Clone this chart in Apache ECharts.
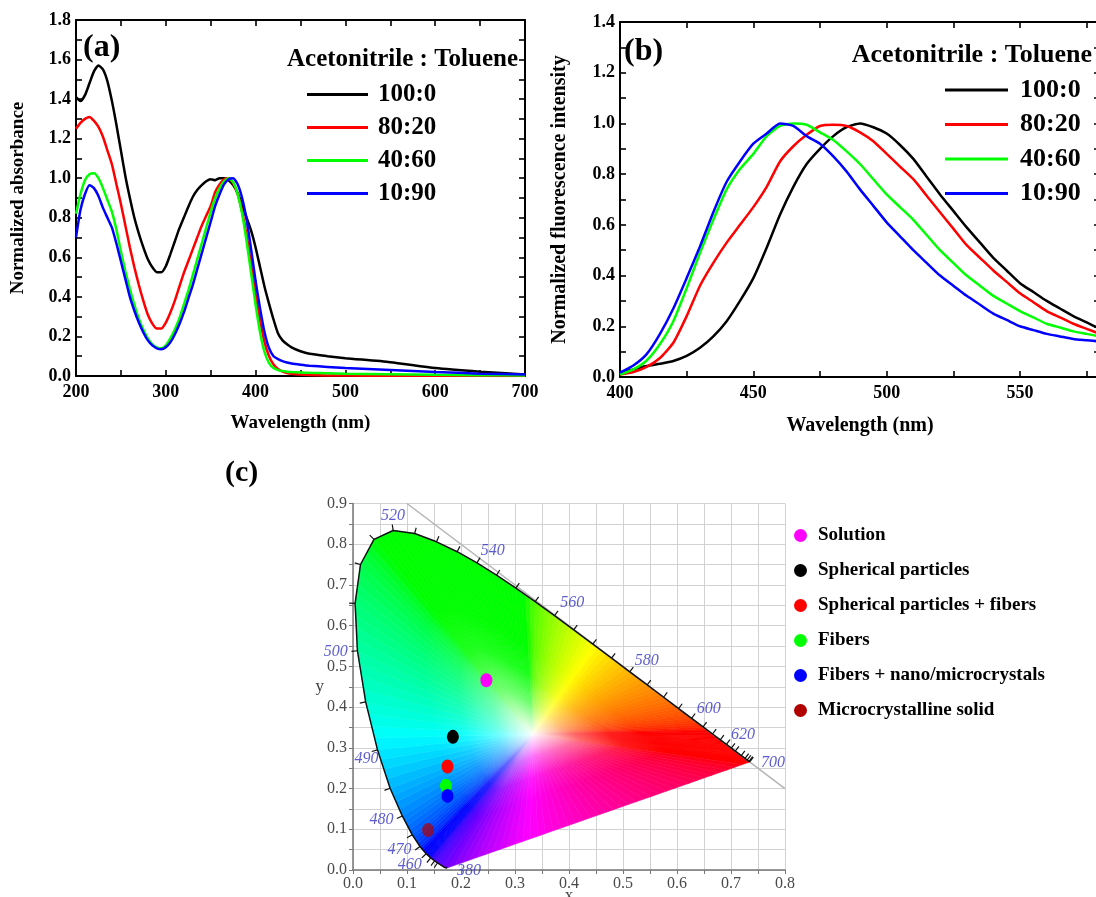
<!DOCTYPE html>
<html>
<head>
<meta charset="utf-8">
<script src="https://cdn.jsdelivr.net/npm/echarts/dist/echarts.min.js"></script>
<style>
  html, body { margin: 0; padding: 0; background: #fff; }
  #chart { width: 1096px; height: 897px; }
</style>
</head>
<body>
<div id="chart"></div>
<script>
// ---------- (a) absorption spectra ----------
const absWavelength = [200,205,210,215,220,225,230,235,240,245,250,255,260,265,270,275,280,285,290,295,
  300,305,310,315,320,325,330,335,340,345,350,355,360,365,370,375,380,385,390,395,
  400,405,410,415,420,425,430,435,440,450,460,480,500,550,600,650,700];
const abs100_0 = [1.41,1.39,1.42,1.48,1.54,1.57,1.55,1.49,1.39,1.27,1.14,1.01,0.90,0.80,0.72,0.65,0.59,0.55,0.525,0.525,
  0.555,0.615,0.68,0.745,0.80,0.855,0.905,0.94,0.965,0.985,0.995,0.99,1.0,1.0,0.99,0.965,0.925,0.865,0.80,0.735,
  0.65,0.55,0.45,0.365,0.285,0.215,0.18,0.16,0.145,0.125,0.112,0.10,0.09,0.07,0.04,0.022,0.008];
const abs80_20 = [1.25,1.28,1.30,1.31,1.29,1.26,1.21,1.14,1.07,0.97,0.87,0.76,0.65,0.55,0.46,0.38,0.31,0.265,0.24,0.24,
  0.27,0.32,0.38,0.45,0.52,0.58,0.64,0.70,0.76,0.81,0.86,0.93,0.97,0.995,1.0,0.975,0.92,0.83,0.71,0.56,
  0.41,0.28,0.17,0.10,0.058,0.035,0.022,0.015,0.011,0.007,0.005,0.003,0.002,0.001,0.001,0.001,0.0];
const abs40_60 = [0.82,0.92,0.99,1.02,1.025,1.0,0.95,0.89,0.83,0.74,0.63,0.53,0.44,0.36,0.29,0.235,0.19,0.16,0.145,0.14,
  0.155,0.19,0.235,0.29,0.36,0.43,0.51,0.59,0.67,0.75,0.83,0.90,0.95,0.985,1.0,0.98,0.92,0.82,0.68,0.52,
  0.36,0.22,0.12,0.065,0.04,0.03,0.025,0.022,0.02,0.018,0.016,0.014,0.012,0.009,0.006,0.004,0.003];
const abs10_90 = [0.70,0.84,0.92,0.965,0.95,0.91,0.85,0.80,0.75,0.67,0.58,0.49,0.40,0.33,0.27,0.22,0.18,0.155,0.14,0.135,
  0.145,0.17,0.21,0.26,0.32,0.39,0.46,0.54,0.62,0.70,0.78,0.86,0.92,0.97,0.995,1.0,0.97,0.90,0.79,0.64,
  0.48,0.34,0.22,0.14,0.10,0.085,0.075,0.068,0.063,0.057,0.052,0.046,0.04,0.03,0.02,0.012,0.007];

// ---------- (b) fluorescence spectra ----------
const flWavelength = [400,405,410,415,420,425,430,435,440,445,450,455,460,465,470,475,480,485,490,495,
  500,505,510,515,520,525,530,535,540,545,550,555,560,565,570,575,580];
const fl100_0 = [0.017,0.03,0.043,0.052,0.063,0.083,0.115,0.16,0.22,0.30,0.39,0.51,0.64,0.75,0.84,0.90,0.95,0.985,1.0,0.985,
  0.96,0.915,0.86,0.79,0.72,0.655,0.59,0.53,0.47,0.42,0.37,0.335,0.30,0.27,0.24,0.215,0.19];
const fl80_20 = [0.01,0.02,0.04,0.075,0.135,0.24,0.36,0.45,0.53,0.60,0.67,0.75,0.85,0.91,0.955,0.99,0.995,0.99,0.965,0.93,
  0.88,0.83,0.78,0.715,0.65,0.585,0.52,0.47,0.42,0.375,0.33,0.295,0.26,0.235,0.21,0.19,0.17];
const fl40_60 = [0.01,0.03,0.065,0.13,0.22,0.35,0.49,0.62,0.74,0.82,0.88,0.95,0.99,1.0,0.995,0.965,0.935,0.89,0.84,0.78,
  0.72,0.67,0.62,0.56,0.50,0.45,0.40,0.36,0.32,0.29,0.26,0.235,0.21,0.195,0.18,0.17,0.16];
const fl10_90 = [0.017,0.045,0.09,0.17,0.27,0.39,0.515,0.65,0.77,0.85,0.92,0.96,1.0,0.99,0.95,0.92,0.87,0.81,0.74,0.675,
  0.61,0.555,0.50,0.45,0.40,0.36,0.32,0.285,0.25,0.225,0.20,0.185,0.17,0.16,0.15,0.145,0.14];

const ratioNames = ['100:0', '80:20', '40:60', '10:90'];
const ratioColors = ['#000000', '#ff0000', '#00ff00', '#0000ff'];

// ---------- (c) CIE 1931 chromaticity ----------
const locusNm = [380,400,420,430,440,445,450,455,460,465,470,475,480,485,490,495,500,505,510,515,
  520,525,530,535,540,545,550,555,560,565,570,575,580,585,590,595,600,605,610,615,
  620,625,630,640,650,660,680,700];
const locusX = [0.1741,0.1733,0.1714,0.1689,0.1644,0.1611,0.1566,0.1510,0.1440,0.1355,0.1241,0.1096,0.0913,0.0687,0.0454,0.0235,0.0082,0.0039,0.0139,0.0389,
  0.0743,0.1142,0.1547,0.1929,0.2296,0.2658,0.3016,0.3373,0.3731,0.4087,0.4441,0.4788,0.5125,0.5448,0.5752,0.6029,0.6270,0.6482,0.6658,0.6801,
  0.6915,0.7006,0.7079,0.7190,0.7260,0.7300,0.7334,0.7347];
const locusY = [0.0050,0.0048,0.0051,0.0069,0.0109,0.0138,0.0177,0.0227,0.0297,0.0399,0.0578,0.0868,0.1327,0.2007,0.2950,0.4127,0.5384,0.6548,0.7502,0.8120,
  0.8338,0.8262,0.8059,0.7816,0.7543,0.7243,0.6923,0.6589,0.6245,0.5896,0.5547,0.5202,0.4866,0.4544,0.4242,0.3965,0.3725,0.3514,0.3340,0.3197,
  0.3083,0.2993,0.2920,0.2809,0.2740,0.2700,0.2666,0.2653];
const whitePoint = [0.3333, 0.3333];

const wlLabelText = ['520','540','560','580','600','620','700','500','490','480','470','460','380'];
const wlLabelX = [0.074,0.259,0.406,0.544,0.659,0.722,0.778,-0.032,0.025,0.053,0.086,0.105,0.215];
const wlLabelY = [0.869,0.783,0.655,0.513,0.397,0.333,0.263,0.537,0.274,0.124,0.049,0.012,-0.003];

const sampleNames = ['Solution','Spherical particles','Spherical particles + fibers','Fibers','Fibers + nano/microcrystals','Microcrystalline solid'];
const sampleX = [0.247, 0.185, 0.175, 0.172, 0.175, 0.139];
const sampleY = [0.466, 0.327, 0.254, 0.207, 0.182, 0.098];
const sampleColors = ['#ff00ff', '#000000', '#ff0000', '#00ff00', '#0000ff', '#b00000'];

// ---------- helpers ----------
const FONT = '"Liberation Serif", "Times New Roman", serif';

function xyToRgb(x, y) {
  const X = x / y, Y = 1, Z = (1 - x - y) / y;
  let r = 3.2406 * X - 1.5372 * Y - 0.4986 * Z;
  let g = -0.9689 * X + 1.8758 * Y + 0.0415 * Z;
  let b = 0.0557 * X - 0.2040 * Y + 1.0570 * Z;
  r = Math.max(0, r); g = Math.max(0, g); b = Math.max(0, b);
  const m = Math.max(r, g, b) || 1;
  const gam = c => { c /= m; return c <= 0.0031308 ? 12.92 * c : 1.055 * Math.pow(c, 1 / 2.4) - 0.055; };
  return [gam(r), gam(g), gam(b)].map(c => Math.round(255 * Math.min(1, c)));
}
function tint(rgb, p) {
  const c = rgb.map(v => Math.round(255 + (v - 255) * p));
  return 'rgb(' + c.join(',') + ')';
}
const pairs = (xs, ys) => xs.map((x, i) => [x, ys[i]]);

function majorTenth(v) { return Math.round(v * 10) % 2 === 0; }

function frameAxis(kind, grid, pos, min, max, interval, showLabels, formatter, extra) {
  return Object.assign({
    type: 'value', gridIndex: grid, position: pos, min: min, max: max, interval: interval,
    axisLine: { show: true, onZero: false, lineStyle: { color: '#000', width: 2 } },
    axisTick: { show: true, inside: true, length: 6, lineStyle: { color: '#000', width: 1.6 } },
    axisLabel: {
      show: showLabels, formatter: formatter, margin: kind === 'x' ? 7 : 5,
      fontFamily: FONT, fontWeight: 'bold', fontSize: 18, color: '#000',
      showMinLabel: true, showMaxLabel: true, hideOverlap: false
    },
    splitLine: { show: false },
    nameMoveOverlap: false
  }, extra || {});
}

// rim of the gamut: spectral locus (finely subdivided) closed by the line of purples
const rim = [];
const last = locusX.length - 1;
for (let i = 0; i < last; i++) {
  const sub = 4;
  for (let s = 0; s < sub; s++) {
    const t = s / sub;
    rim.push([locusX[i] + (locusX[i + 1] - locusX[i]) * t, locusY[i] + (locusY[i + 1] - locusY[i]) * t]);
  }
}
rim.push([locusX[last], locusY[last]]);
const purpleSteps = 40;
for (let k = 1; k < purpleSteps; k++) {
  const t = k / purpleSteps;
  rim.push([locusX[last] + (locusX[0] - locusX[last]) * t, locusY[last] + (locusY[0] - locusY[last]) * t]);
}
const gamutCells = rim.map((p, i) => {
  const q = rim[(i + 1) % rim.length];
  return [p[0], p[1], q[0], q[1]];
});

// tick marks along the spectral locus
const tickCells = [];
locusNm.forEach((nm, i) => {
  if (nm < 450) return;
  const a = Math.max(0, i - 1), b = Math.min(last, i + 1);
  tickCells.push([locusX[i], locusY[i], locusX[a], locusY[a], locusX[b], locusY[b]]);
});

const chart = echarts.init(document.getElementById('chart'), null, { renderer: 'canvas' });

const seriesA = [abs100_0, abs80_20, abs40_60, abs10_90].map((vals, i) => ({
  name: ratioNames[i], type: 'line', xAxisIndex: 0, yAxisIndex: 0,
  data: pairs(absWavelength, vals), symbol: 'none', smooth: 0.2,
  lineStyle: { color: ratioColors[i], width: 2.5 }, itemStyle: { color: ratioColors[i] }
}));
const seriesB = [fl100_0, fl80_20, fl40_60, fl10_90].map((vals, i) => ({
  name: ratioNames[i], type: 'line', xAxisIndex: 2, yAxisIndex: 2,
  data: pairs(flWavelength, vals), symbol: 'none', smooth: 0.2,
  lineStyle: { color: ratioColors[i], width: 2.5 }, itemStyle: { color: ratioColors[i] }
}));

const gamutSeries = {
  type: 'custom', xAxisIndex: 4, yAxisIndex: 4, silent: true, z: 1, clip: false,
  data: gamutCells,
  renderItem: function (params, api) {
    const a = api.coord([api.value(0), api.value(1)]);
    const b = api.coord([api.value(2), api.value(3)]);
    const w = api.coord(whitePoint);
    const m = [(a[0] + b[0]) / 2, (a[1] + b[1]) / 2];
    const rgb = xyToRgb((api.value(0) + api.value(2)) / 2, (api.value(1) + api.value(3)) / 2);
    const grad = new echarts.graphic.LinearGradient(w[0], w[1], m[0], m[1], [
      { offset: 0, color: tint(rgb, 0.02) },
      { offset: 0.08, color: tint(rgb, 0.22) },
      { offset: 0.22, color: tint(rgb, 0.58) },
      { offset: 0.42, color: tint(rgb, 0.9) },
      { offset: 0.62, color: tint(rgb, 1) },
      { offset: 1, color: tint(rgb, 1) }
    ], true);
    return { type: 'polygon', shape: { points: [w, a, b] }, style: { fill: grad, stroke: grad, lineWidth: 0.6 } };
  }
};

const tickSeries = {
  type: 'custom', xAxisIndex: 4, yAxisIndex: 4, silent: true, z: 3, clip: false,
  data: tickCells,
  renderItem: function (params, api) {
    const p = api.coord([api.value(0), api.value(1)]);
    const pp = api.coord([api.value(2), api.value(3)]);
    const pn = api.coord([api.value(4), api.value(5)]);
    const w = api.coord(whitePoint);
    let tx = pn[0] - pp[0], ty = pn[1] - pp[1];
    const len = Math.hypot(tx, ty) || 1; tx /= len; ty /= len;
    let nx = ty, ny = -tx;
    if (nx * (p[0] - w[0]) + ny * (p[1] - w[1]) < 0) { nx = -nx; ny = -ny; }
    return { type: 'line', shape: { x1: p[0], y1: p[1], x2: p[0] + nx * 6, y2: p[1] + ny * 6 },
      style: { stroke: '#111', lineWidth: 1.2 } };
  }
};

const locusSeries = {
  type: 'line', xAxisIndex: 4, yAxisIndex: 4, silent: true, z: 3, symbol: 'none',
  data: pairs(locusX, locusY), lineStyle: { color: '#111', width: 1.5 }
};

const diagonalSeries = {
  type: 'line', xAxisIndex: 4, yAxisIndex: 4, silent: true, z: 2, symbol: 'none',
  data: [[0.1, 0.9], [0.8, 0.2]], lineStyle: { color: '#b4b4b4', width: 1.5 }
};

const wlLabelSeries = {
  type: 'scatter', xAxisIndex: 4, yAxisIndex: 4, silent: true, z: 4, clip: false,
  symbolSize: 1, itemStyle: { color: 'rgba(0,0,0,0)' },
  data: wlLabelText.map((t, i) => [wlLabelX[i], wlLabelY[i], t]),
  label: { show: true, position: 'inside', formatter: p => p.value[2],
    fontFamily: FONT, fontStyle: 'italic', fontSize: 16, color: '#3434c4' }
};

const sampleSeries = sampleNames.map((n, i) => ({
  name: n, type: 'scatter', xAxisIndex: 4, yAxisIndex: 4, z: 5,
  symbol: 'circle', symbolSize: [12, 14],
  itemStyle: { color: sampleColors[i], opacity: i === 5 ? 0.7 : 1 },
  data: [[sampleX[i], sampleY[i]]]
}));

const cieAxisLabel = {
  formatter: v => (Math.round(v * 100) % 10 === 0 ? v.toFixed(1) : ''), margin: 6,
  fontFamily: FONT, fontSize: 16, color: '#4a4a4a', showMinLabel: true, showMaxLabel: true, hideOverlap: false
};

const option = {
  animation: false,
  backgroundColor: '#ffffff',
  grid: [
    { left: 76, top: 20, width: 449, height: 356, outerBoundsMode: 'none', containLabel: false },
    { left: 620, top: 22, width: 480, height: 355, outerBoundsMode: 'none', containLabel: false },
    { left: 353, top: 503.5, width: 432, height: 366.5, outerBoundsMode: 'none', containLabel: false }
  ],
  xAxis: [
    frameAxis('x', 0, 'bottom', 200, 700, 50, true, v => (v % 100 === 0 ? String(v) : ''),
      { name: 'Wavelength (nm)', nameLocation: 'middle', nameGap: 38,
        nameTextStyle: { fontFamily: FONT, fontWeight: 'bold', fontSize: 19, color: '#000' } }),
    frameAxis('x', 0, 'top', 200, 700, 50, false),
    frameAxis('x', 1, 'bottom', 400, 580, 25, true, v => (v % 50 === 0 ? String(v) : ''),
      { name: 'Wavelength (nm)', nameLocation: 'middle', nameGap: 39,
        nameTextStyle: { fontFamily: FONT, fontWeight: 'bold', fontSize: 20, color: '#000' } }),
    frameAxis('x', 1, 'top', 400, 580, 25, false),
    {
      type: 'value', gridIndex: 2, min: 0, max: 0.8, interval: 0.05,
      axisLine: { show: true, onZero: false, lineStyle: { color: '#777', width: 1.5 } },
      axisTick: { show: true, length: 4, lineStyle: { color: '#777' } },
      axisLabel: cieAxisLabel,
      splitLine: { show: true, lineStyle: { color: '#d2d2d2', width: 1 } },
      name: 'x', nameLocation: 'middle', nameGap: 17, nameMoveOverlap: false,
      nameTextStyle: { fontFamily: FONT, fontSize: 17, color: '#444' }
    }
  ],
  yAxis: [
    frameAxis('y', 0, 'left', 0, 1.8, 0.1, true, v => (majorTenth(v) ? v.toFixed(1) : ''),
      { name: 'Normalized absorbance', nameLocation: 'middle', nameGap: 48,
        nameTextStyle: { fontFamily: FONT, fontWeight: 'bold', fontSize: 19, color: '#000' } }),
    frameAxis('y', 0, 'right', 0, 1.8, 0.1, false),
    frameAxis('y', 1, 'left', 0, 1.4, 0.1, true, v => (majorTenth(v) ? v.toFixed(1) : ''),
      { name: 'Normalized fluorescence intensity', nameLocation: 'middle', nameGap: 50,
        nameTextStyle: { fontFamily: FONT, fontWeight: 'bold', fontSize: 20, color: '#000' } }),
    frameAxis('y', 1, 'right', 0, 1.4, 0.1, false),
    {
      type: 'value', gridIndex: 2, min: 0, max: 0.9, interval: 0.05,
      axisLine: { show: true, onZero: false, lineStyle: { color: '#777', width: 1.5 } },
      axisTick: { show: true, length: 4, lineStyle: { color: '#777' } },
      axisLabel: cieAxisLabel,
      splitLine: { show: true, lineStyle: { color: '#d2d2d2', width: 1 } },
      name: 'y', nameLocation: 'middle', nameGap: 29, nameRotate: 0, nameMoveOverlap: false,
      nameTextStyle: { fontFamily: FONT, fontSize: 17, color: '#444' }
    }
  ],
  legend: [
    { data: ratioNames, orient: 'vertical', left: 307, top: 82, padding: 0, itemGap: 8,
      itemWidth: 61, itemHeight: 3, icon: 'rect', selectedMode: false,
      textStyle: { fontFamily: FONT, fontWeight: 'bold', fontSize: 25, color: '#000', padding: [0, 0, 0, 5] } },
    { data: ratioNames, orient: 'vertical', left: 945, top: 77, padding: 0, itemGap: 8.5,
      itemWidth: 63, itemHeight: 3, icon: 'rect', selectedMode: false,
      textStyle: { fontFamily: FONT, fontWeight: 'bold', fontSize: 26, color: '#000', padding: [0, 0, 0, 7] } },
    { data: sampleNames.map((n, i) => ({ name: n, itemStyle: { color: sampleColors[i], opacity: 1 } })),
      orient: 'vertical', left: 794, top: 526, padding: 0, itemGap: 16,
      itemWidth: 13, itemHeight: 14, icon: 'circle', selectedMode: false,
      textStyle: { fontFamily: FONT, fontWeight: 'bold', fontSize: 19, color: '#000', padding: [0, 0, 0, 6] } }
  ],
  graphic: [
    { type: 'text', x: 83, y: 48, style: { text: '(a)', font: 'bold 32px ' + FONT, fill: '#000',
      textVerticalAlign: 'middle', verticalAlign: 'middle' } },
    { type: 'text', x: 624, y: 52, style: { text: '(b)', font: 'bold 32px ' + FONT, fill: '#000',
      textVerticalAlign: 'middle', verticalAlign: 'middle' } },
    { type: 'text', x: 225, y: 473, style: { text: '(c)', font: 'bold 30px ' + FONT, fill: '#000',
      textVerticalAlign: 'middle', verticalAlign: 'middle' } },
    { type: 'text', x: 518, y: 60, style: { text: 'Acetonitrile : Toluene', font: 'bold 25px ' + FONT, fill: '#000',
      textAlign: 'right', align: 'right', textVerticalAlign: 'middle', verticalAlign: 'middle' } },
    { type: 'text', x: 1092, y: 55, style: { text: 'Acetonitrile : Toluene', font: 'bold 26px ' + FONT, fill: '#000',
      textAlign: 'right', align: 'right', textVerticalAlign: 'middle', verticalAlign: 'middle' } }
  ],
  series: [].concat(seriesA, seriesB, [gamutSeries, diagonalSeries, locusSeries, tickSeries, wlLabelSeries], sampleSeries)
};

chart.setOption(option);
</script>
</body>
</html>
